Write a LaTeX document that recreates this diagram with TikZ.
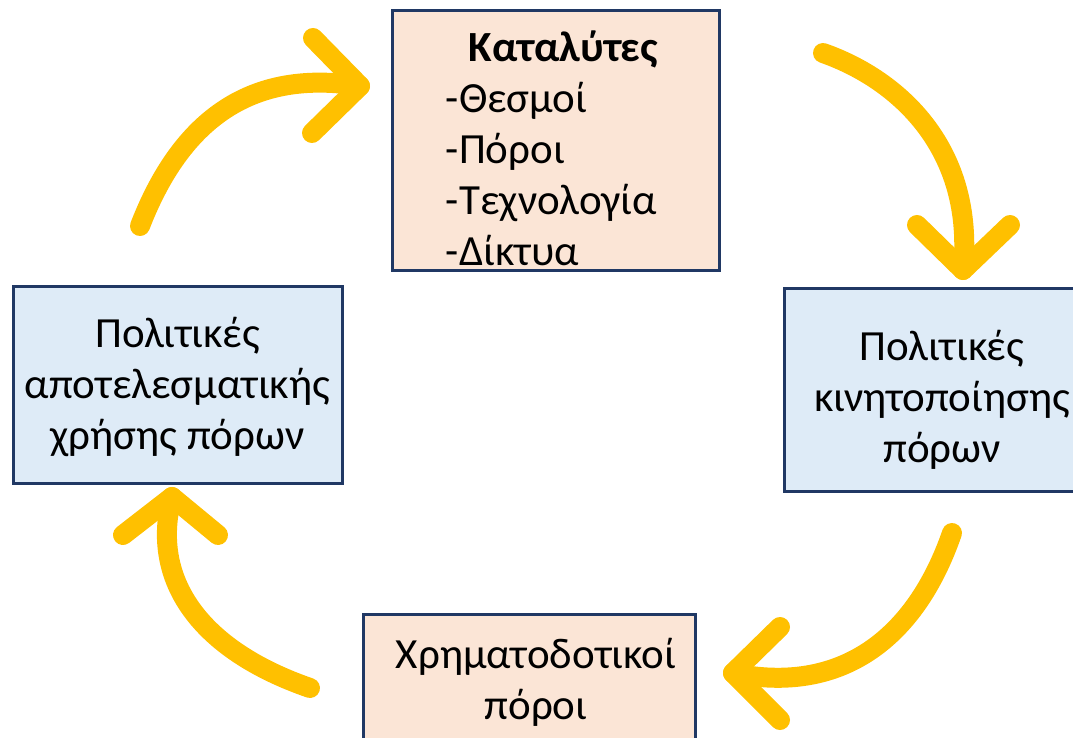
\documentclass[tikz,border=0pt]{standalone}
\usepackage{fontspec}
\setmainfont{Carlito}
\definecolor{peach}{HTML}{FBE5D6}
\definecolor{paleblue}{HTML}{DEEBF7}
\definecolor{navy}{HTML}{203864}
\definecolor{amber}{HTML}{FFC000}
\tikzset{
  box/.style={draw=navy, line width=1.5pt, rectangle, inner sep=0pt},
  peachbox/.style={box, fill=peach},
  bluebox/.style={box, fill=paleblue},
  label/.style={align=center, inner sep=0pt, font=\fontsize{21.5}{25.5}\selectfont},
  cycle/.style={draw=amber, line width=10pt, line cap=round, line join=round},
}
\begin{document}
\begin{tikzpicture}[x=0.5pt, y=-0.5pt]
\useasboundingbox (0,0) rectangle (1073,738);
\clip (0,0) rectangle (1073,738);
% boxes
\node[peachbox, minimum width=163.5pt, minimum height=130pt] (cat) at (555.5,141) {};
\node[bluebox, minimum width=164.5pt, minimum height=98pt] (eff) at (177.5,385) {};
\node[bluebox, minimum width=156pt, minimum height=101pt] (mob) at (940,390) {};
\node[peachbox, minimum width=166pt, minimum height=100pt] (fin) at (529,714) {};
% texts
\node[label, align=left] (catT) at (552,148) {\hspace*{11.5pt}\textbf{Καταλύτες}\\-Θεσμοί\\-Πόροι\\-Τεχνολογία\\-Δίκτυα};
\node[label] (effT) at (177.5,387) {Πολιτικές\\αποτελεσματικής\\χρήσης πόρων};
\node[label] (mobT) at (942,400) {Πολιτικές\\κινητοποίησης\\πόρων};
\node[label] (finT) at (536,682) {Χρηματοδοτικοί\\πόροι};
% arrow 1: efficiency -> catalysts
\coordinate (s1) at (140,226);
\coordinate (t1) at (360,86);
\draw[cycle] (s1) .. controls (185,110) and (260,70) .. (t1);
\draw[cycle] (313,38) -- (t1) -- (312,133);
% arrow 2: catalysts -> mobilisation
\coordinate (s2) at (823,53);
\coordinate (t2) at (963,270);
\draw[cycle] (s2) .. controls (900,80) and (975,150) .. (t2);
\draw[cycle] (917,225) -- (t2) -- (1010,225);
% arrow 3: mobilisation -> finance
\coordinate (s3) at (952,533);
\coordinate (t3) at (733,673);
\draw[cycle] (s3) .. controls (915,640) and (840,695) .. (t3);
\draw[cycle] (780,627) -- (t3) -- (780,720);
% arrow 4: finance -> efficiency
\coordinate (s4) at (310,688);
\coordinate (t4) at (172,497);
\draw[cycle] (s4) .. controls (200,650) and (150,580) .. (t4);
\draw[cycle] (123,535) -- (t4) -- (218,535);
\end{tikzpicture}
\end{document}
